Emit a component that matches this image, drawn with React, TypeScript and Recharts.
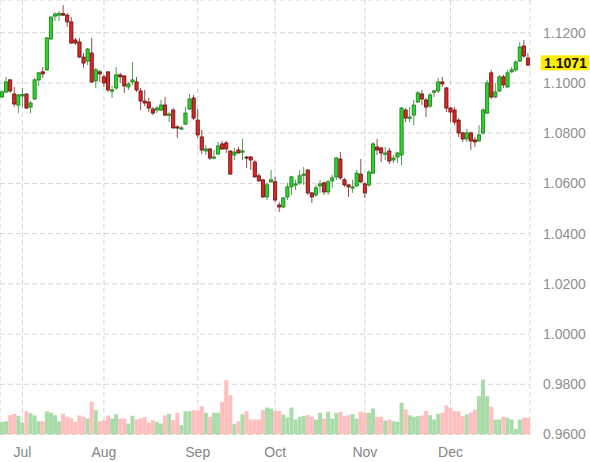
import React from 'react';
import { ComposedChart, Bar, XAxis, YAxis, CartesianGrid, ReferenceLine } from 'recharts';

const opens = [
  1.0944, 1.0964, 1.1012, 1.0956, 1.0912, 1.0948, 1.0956, 1.0904, 1.0936, 1.1012,
  1.1044, 1.1052, 1.1175, 1.1266, 1.1270, 1.1276, 1.1270, 1.1243, 1.1171, 1.1163,
  1.1103, 1.1087, 1.1119, 1.1008, 1.1044, 1.1024, 1.1044, 1.0968, 1.0980, 1.1032,
  1.1028, 1.0984, 1.1004, 1.1004, 1.0968, 1.0928, 1.0924, 1.0896, 1.0892, 1.0892,
  1.0912, 1.0872, 1.0892, 1.0825, 1.0817, 1.0836, 1.0896, 1.0940, 1.0852, 1.0785,
  1.0729, 1.0737, 1.0701, 1.0717, 1.0757, 1.0761, 1.0729, 1.0713, 1.0733, 1.0725,
  1.0705, 1.0705, 1.0685, 1.0630, 1.0614, 1.0546, 1.0606, 1.0606, 1.0514, 1.0506,
  1.0546, 1.0586, 1.0594, 1.0602, 1.0634, 1.0653, 1.0562, 1.0554, 1.0590, 1.0602,
  1.0566, 1.0610, 1.0626, 1.0697, 1.0614, 1.0594, 1.0582, 1.0590, 1.0637, 1.0598,
  1.0594, 1.0641, 1.0745, 1.0741, 1.0717, 1.0729, 1.0693, 1.0705, 1.0713, 1.0892,
  1.0860, 1.0872, 1.0924, 1.0956, 1.0932, 1.0908, 1.0964, 1.0968, 1.1004, 1.0980,
  1.0900, 1.0892, 1.0852, 1.0801, 1.0777, 1.0801, 1.0773, 1.0769, 1.0801, 1.0880,
  1.1040, 1.0944, 1.0968, 1.1024, 1.0984, 1.1044, 1.1052, 1.1087, 1.1147, 1.1099,
];

const highs = [
  1.0972, 1.1024, 1.1016, 1.0984, 1.0956, 1.0980, 1.0958, 1.0928, 1.1020, 1.1044,
  1.1063, 1.1183, 1.1266, 1.1282, 1.1286, 1.1310, 1.1278, 1.1262, 1.1179, 1.1179,
  1.1119, 1.1139, 1.1179, 1.1060, 1.1052, 1.1032, 1.1046, 1.0988, 1.1063, 1.1040,
  1.1030, 1.1004, 1.1083, 1.1024, 1.0980, 1.0972, 1.0940, 1.0904, 1.0908, 1.0932,
  1.0944, 1.0884, 1.0900, 1.0832, 1.0829, 1.0904, 1.0956, 1.0952, 1.0896, 1.0813,
  1.0753, 1.0741, 1.0733, 1.0765, 1.0769, 1.0769, 1.0731, 1.0741, 1.0745, 1.0777,
  1.0709, 1.0709, 1.0693, 1.0641, 1.0616, 1.0602, 1.0653, 1.0626, 1.0526, 1.0546,
  1.0602, 1.0630, 1.0614, 1.0653, 1.0665, 1.0657, 1.0566, 1.0594, 1.0614, 1.0606,
  1.0614, 1.0634, 1.0705, 1.0725, 1.0622, 1.0596, 1.0614, 1.0653, 1.0697, 1.0606,
  1.0653, 1.0765, 1.0777, 1.0745, 1.0745, 1.0741, 1.0713, 1.0725, 1.0904, 1.0900,
  1.0904, 1.0932, 1.0968, 1.0972, 1.0940, 1.0960, 1.0972, 1.1020, 1.1024, 1.0984,
  1.0904, 1.0904, 1.0860, 1.0805, 1.0817, 1.0805, 1.0785, 1.0832, 1.0900, 1.1012,
  1.1052, 1.1000, 1.1032, 1.1032, 1.1052, 1.1063, 1.1091, 1.1163, 1.1171, 1.1119,
];

const lows = [
  1.0940, 1.0960, 1.0960, 1.0904, 1.0880, 1.0904, 1.0896, 1.0880, 1.0932, 1.0988,
  1.1020, 1.1048, 1.1171, 1.1247, 1.1247, 1.1266, 1.1223, 1.1155, 1.1151, 1.1099,
  1.1060, 1.1071, 1.1000, 1.0980, 1.1004, 1.0984, 1.0964, 1.0940, 1.0972, 1.1000,
  1.0960, 1.0972, 1.0992, 1.0964, 1.0892, 1.0908, 1.0884, 1.0872, 1.0880, 1.0888,
  1.0868, 1.0844, 1.0817, 1.0781, 1.0813, 1.0832, 1.0892, 1.0852, 1.0781, 1.0717,
  1.0713, 1.0693, 1.0697, 1.0713, 1.0733, 1.0721, 1.0634, 1.0693, 1.0719, 1.0693,
  1.0661, 1.0653, 1.0622, 1.0606, 1.0542, 1.0534, 1.0602, 1.0526, 1.0486, 1.0502,
  1.0534, 1.0554, 1.0574, 1.0594, 1.0594, 1.0554, 1.0522, 1.0546, 1.0562, 1.0554,
  1.0554, 1.0582, 1.0614, 1.0614, 1.0586, 1.0546, 1.0562, 1.0586, 1.0602, 1.0542,
  1.0586, 1.0637, 1.0713, 1.0685, 1.0693, 1.0677, 1.0681, 1.0681, 1.0673, 1.0844,
  1.0844, 1.0832, 1.0920, 1.0912, 1.0864, 1.0900, 1.0944, 1.0960, 1.0984, 1.0884,
  1.0844, 1.0832, 1.0785, 1.0765, 1.0765, 1.0733, 1.0745, 1.0765, 1.0793, 1.0876,
  1.0936, 1.0940, 1.0964, 1.0980, 1.0980, 1.1040, 1.1044, 1.1083, 1.1099, 1.1068,
];

const closes = [
  1.0964, 1.1004, 1.0968, 1.0916, 1.0952, 1.0954, 1.0900, 1.0920, 1.1012, 1.1040,
  1.1036, 1.1179, 1.1262, 1.1274, 1.1276, 1.1270, 1.1243, 1.1159, 1.1159, 1.1103,
  1.1079, 1.1135, 1.1004, 1.1052, 1.1036, 1.1000, 1.0972, 1.0972, 1.1032, 1.1024,
  1.0988, 1.0996, 1.1012, 1.0972, 1.0928, 1.0920, 1.0900, 1.0880, 1.0900, 1.0912,
  1.0872, 1.0876, 1.0821, 1.0821, 1.0821, 1.0880, 1.0936, 1.0860, 1.0793, 1.0733,
  1.0737, 1.0701, 1.0705, 1.0749, 1.0737, 1.0737, 1.0637, 1.0725, 1.0721, 1.0729,
  1.0701, 1.0693, 1.0626, 1.0610, 1.0546, 1.0594, 1.0614, 1.0534, 1.0506, 1.0542,
  1.0586, 1.0626, 1.0598, 1.0630, 1.0637, 1.0562, 1.0546, 1.0582, 1.0598, 1.0566,
  1.0606, 1.0622, 1.0701, 1.0622, 1.0594, 1.0586, 1.0586, 1.0641, 1.0606, 1.0562,
  1.0645, 1.0757, 1.0733, 1.0721, 1.0721, 1.0689, 1.0701, 1.0721, 1.0900, 1.0860,
  1.0864, 1.0912, 1.0960, 1.0936, 1.0904, 1.0952, 1.0968, 1.1004, 1.0996, 1.0900,
  1.0884, 1.0844, 1.0801, 1.0777, 1.0801, 1.0769, 1.0765, 1.0793, 1.0892, 1.1000,
  1.0944, 1.0964, 1.1024, 1.0992, 1.1040, 1.1052, 1.1083, 1.1143, 1.1107, 1.1071,
];

const volumes = [
  12700, 13300, 19300, 20700, 18700, 12000, 23300, 21300, 19000, 13300,
  13300, 23000, 21700, 19300, 13300, 20700, 17700, 16300, 12700, 19000,
  17700, 16000, 32700, 24300, 13300, 14300, 19000, 16000, 20300, 16000,
  16000, 11000, 18700, 15000, 16000, 17300, 12000, 14300, 12700, 11000,
  19000, 20700, 14300, 21700, 9300, 23300, 23300, 24300, 23700, 28300,
  21700, 17700, 21700, 21700, 32700, 54300, 39300, 10300, 13300, 20300,
  23300, 15000, 15000, 15000, 24300, 27000, 26000, 23500, 23500, 20000,
  17000, 27000, 15000, 17700, 18500, 19300, 17700, 15000, 21700, 16000,
  22700, 16000, 21700, 22700, 18300, 19300, 20300, 16000, 23000, 21700,
  21700, 26000, 17700, 17700, 14000, 15000, 13300, 12700, 31700, 25000,
  19300, 17700, 18300, 19000, 23300, 19300, 15000, 20700, 21700, 29000,
  27000, 23300, 23300, 18300, 20000, 21700, 25000, 38300, 55000, 38300,
  27700, 15000, 15000, 17700, 16700, 15000, 5700, 15000, 16700, 16700,
];

const monthLabels = ['Jul', 'Aug', 'Sep', 'Oct', 'Nov', 'Dec'];
const monthStartIndex = [5, 25, 48, 67, 89, 110];
const priceTicks = [0.96, 0.98, 1.0, 1.02, 1.04, 1.06, 1.08, 1.1, 1.12];
const lastPrice = 1.1071;

const data = opens.map((o, i) => ({
  i,
  open: o,
  high: highs[i],
  low: lows[i],
  close: closes[i],
  vol: volumes[i],
  up: closes[i] >= o,
}));

const FONT = '"Liberation Sans", Arial, Helvetica, sans-serif';

const Candle = (props: any) => {
  const { x, y, width, height, payload } = props;
  if (!payload || x == null) return null;
  const top = Math.min(y, y + height);
  const h = Math.abs(height);
  const range = payload.high - payload.low;
  const ratio = range > 0 ? h / range : 0;
  const cx = x + width / 2;
  const yO = top + (payload.high - payload.open) * ratio;
  const yC = top + (payload.high - payload.close) * ratio;
  const bTop = Math.min(yO, yC);
  const bH = Math.max(Math.abs(yO - yC), 1.2);
  const up = payload.up;
  return (
    <g>
      <line x1={cx} x2={cx} y1={top} y2={top + h} stroke={up ? '#4f9d4f' : '#9e4848'} strokeWidth={1} />
      <rect
        x={cx - 1.6}
        y={bTop}
        width={3.2}
        height={bH}
        fill={up ? '#2bd42b' : '#e02424'}
        stroke={up ? '#187a18' : '#5c1414'}
        strokeWidth={0.8}
      />
    </g>
  );
};

const VolBar = (props: any) => {
  const { x, y, width, height, payload } = props;
  if (!payload || x == null) return null;
  const top = Math.min(y, y + height);
  return <rect x={x} y={top} width={width} height={Math.abs(height)} fill={payload.up ? '#a9dca9' : '#ffbfbf'} />;
};

const PriceLabel = (props: any) => {
  const vb = props.viewBox || {};
  const right = (vb.x || 0) + (vb.width || 0);
  const cy = vb.y || 0;
  return (
    <g>
      <rect x={right + 10.7} y={cy - 9.8} width={48.5} height={15} fill="#ffee00" />
      <text x={right + 14} y={cy + 3.2} fontFamily={FONT} fontSize={14} fontWeight="bold" fill="#111">
        {lastPrice.toFixed(4)}
      </text>
    </g>
  );
};

export default function App() {
  return (
    <div style={{ position: 'absolute', left: 0, top: 0, width: 590, height: 462, background: '#fff', fontFamily: FONT }}>
      <ComposedChart
        width={590}
        height={462}
        data={data}
        margin={{ top: 0, right: 0, bottom: 0, left: 0 }}
        barCategoryGap={0}
        barGap={0}
      >
        <CartesianGrid xAxisId="p" yAxisId="price" stroke="#d6d6d6" strokeDasharray="5 3" />
        <XAxis
          xAxisId="p"
          dataKey="i"
          type="category"
          ticks={monthStartIndex}
          interval={0}
          tickFormatter={(v: any) => monthLabels[monthStartIndex.indexOf(Number(v))] ?? ''}
          axisLine={false}
          tickLine={false}
          height={27.5}
          tickMargin={6.5}
          tick={{ fill: '#858585', fontSize: 14, fontFamily: FONT }}
        />
        <XAxis xAxisId="v" dataKey="i" type="category" hide />
        <YAxis
          yAxisId="price"
          orientation="right"
          type="number"
          domain={[0.96, 1.13302]}
          allowDataOverflow
          ticks={priceTicks}
          interval={0}
          tickFormatter={(v: number) => v.toFixed(4)}
          axisLine={false}
          tickLine={false}
          width={60}
          tickMargin={7}
          tick={{ fill: '#8f8f8f', fontSize: 14, fontFamily: FONT, textAnchor: 'start' }}
        />
        <YAxis yAxisId="vol" type="number" hide domain={[0, 434500]} allowDataOverflow />
        <Bar xAxisId="v" yAxisId="vol" dataKey="vol" shape={VolBar} isAnimationActive={false} />
        <Bar
          xAxisId="p"
          yAxisId="price"
          dataKey={(d: any) => [d.low, d.high]}
          shape={Candle}
          isAnimationActive={false}
        />
        <ReferenceLine
          xAxisId="p"
          yAxisId="price"
          y={lastPrice}
          stroke="transparent"
          ifOverflow="visible"
          label={PriceLabel}
        />
      </ComposedChart>
    </div>
  );
}
